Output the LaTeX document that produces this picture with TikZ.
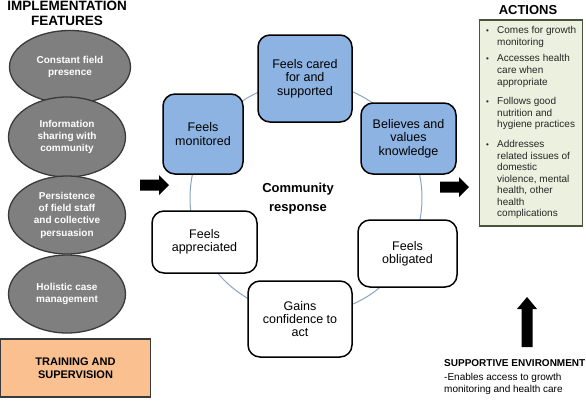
\documentclass[tikz,border=0pt]{standalone}
\usepackage{fontspec}
\setmainfont{Liberation Sans}
\usetikzlibrary{shapes.geometric}
\definecolor{ellfill}{HTML}{7F7F7F}
\definecolor{ellline}{HTML}{3A3A3A}
\definecolor{bluefill}{HTML}{8DB3E2}
\definecolor{orangefill}{HTML}{FAC08F}
\definecolor{greenfill}{HTML}{EBF1DE}
\definecolor{greenline}{HTML}{4A5240}
\definecolor{circline}{HTML}{8AA4C0}
\begin{document}
\begin{tikzpicture}[x=1pt,y=-1pt,
  feat/.style={ellipse, draw=ellline, line width=1.3pt, fill=ellfill,
    minimum width=117pt, minimum height=78pt, inner sep=0pt, text=white,
    font=\fontsize{10}{12.3}\selectfont\bfseries, align=center},
  resp/.style={rectangle, rounded corners=12pt, draw=black, line width=1.5pt,
    align=center, font=\fontsize{12.5}{13.4}\selectfont, inner sep=0pt, fill=white},
  blueresp/.style={resp, fill=bluefill},
  title/.style={anchor=base, inner sep=0pt, font=\fontsize{13.5}{15}\selectfont\bfseries},
  actline/.style={anchor=base west, inner sep=0pt, font=\fontsize{10}{11}\selectfont, text=black!85},
  envline/.style={anchor=base west, inner sep=0pt, font=\fontsize{10}{12}\selectfont},
  blockarrow/.style={fill=black}
]
\useasboundingbox (0,0) rectangle (586,400);

% titles
\node[title] (t1) at (67,10) {IMPLEMENTATION};
\node[title] (t2) at (67,25) {FEATURES};
\node[title, font=\fontsize{13}{15}\selectfont\bfseries] (t3) at (528,14.5) {ACTIONS};

% implementation features
\node[feat, minimum width=121pt, minimum height=73pt] (f1) at (70,67) {Constant field\\presence};
\node[feat, minimum height=80pt] (f2) at (67,137) {Information\\sharing with\\community};
\node[feat] (f3) at (67,215) {Persistence\\of field staff\\and collective\\persuasion};
\node[feat] (f4) at (67,294) {Holistic case\\management};

% training box
\node[rectangle, draw=ellline, line width=1.3pt, fill=orangefill, minimum width=150pt,
  minimum height=58pt, inner sep=0pt, align=center,
  font=\fontsize{11}{13.2}\selectfont\bfseries] (tr) at (75.5,368) {TRAINING AND\\SUPERVISION};

% community response cycle
\draw[circline, line width=1pt] (306,198) circle (116);
\node[blueresp, minimum width=94pt, minimum height=87pt] (cared) at (305,78.5) {Feels cared\\for and\\supported};
\node[blueresp, minimum width=80pt, minimum height=80pt] (mon) at (203,134) {Feels\\monitored};
\node[blueresp, minimum width=95pt, minimum height=71pt] (bel) at (408.5,138.5) {Believes and\\values\\knowledge};
\node[resp, minimum width=105pt, minimum height=62pt] (app) at (204.5,242) {Feels\\appreciated};
\node[resp, minimum width=104pt, minimum height=76pt] (gains) at (300,319) {Gains\\confidence to\\act};
\node[resp, minimum width=99pt, minimum height=67pt] (obl) at (407.5,253.5) {Feels\\obligated};
\node[title, font=\fontsize{13}{15}\selectfont\bfseries] (cr1) at (298,192.5) {Community};
\node[title, font=\fontsize{13}{15}\selectfont\bfseries] (cr2) at (298,211.5) {response};

% block arrows
\fill[blockarrow] (140,179.5) -- (159,179.5) -- (159,175) -- (169,185) -- (159,195) -- (159,190.5) -- (140,190.5) -- cycle;
\fill[blockarrow] (440,181.5) -- (459,181.5) -- (459,177) -- (469,187) -- (459,197) -- (459,192.5) -- (440,192.5) -- cycle;
\fill[blockarrow] (521.5,347) -- (521.5,309) -- (517,309) -- (527,297) -- (537,309) -- (532.5,309) -- (532.5,347) -- cycle;

% actions box
\node[rectangle, draw=greenline, line width=1.2pt, fill=greenfill, minimum width=103pt,
  minimum height=206pt, inner sep=0pt] (actbox) at (531,123) {};
\foreach \b in {33.5,61.5,104.5,147.5}{
  \node[actline, font=\fontsize{8}{10}\selectfont] (bul\b) at (486,\b) {•};
}
\foreach \txt/\y [count=\i] in {
  Comes for growth/33.5, monitoring/45,
  Accesses health/61.5, care when/73.5, appropriate/85.5,
  Follows good/104.5, nutrition and/116, hygiene practices/127.5,
  Addresses/147.5, related issues of/159, domestic/170.5, {violence, mental}/182, {health, other}/193.5, health/205, complications/216.5}{
  \node[actline] (al\i) at (497,\y) {\txt};
}

% supportive environment
\node[envline, font=\fontsize{10}{12}\selectfont\bfseries] (se1) at (444,366.5) {SUPPORTIVE ENVIRONMENT};
\node[envline] (se2) at (444,380.5) {-Enables access to growth};
\node[envline] (se3) at (444,392.5) {monitoring and health care};
\end{tikzpicture}
\end{document}
